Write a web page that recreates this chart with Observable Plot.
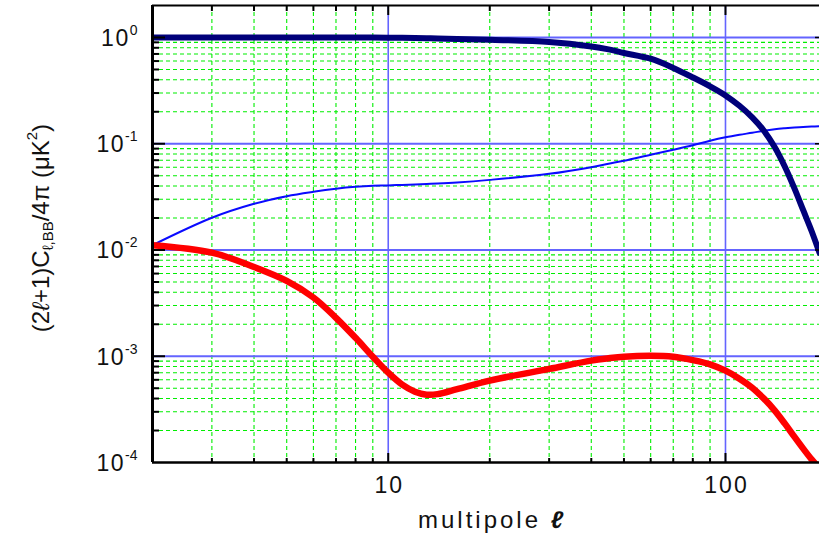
<!DOCTYPE html>
<html><head><meta charset="utf-8">
<script src="https://cdn.jsdelivr.net/npm/d3@7"></script>
<script src="https://cdn.jsdelivr.net/npm/@observablehq/plot@0.6"></script>
<style>html,body{margin:0;padding:0;background:#fff;} svg{display:block}</style>
</head><body><div id="chart"></div>
<script>
// multipole values
const ell = [2,3,4,5,6,7,8,9,10,11,12,13,14,16,20,30,40,45,50,60,70,80,90,100,110,120,130,140,150,160,170,180,190];
// thick navy curve
const seriesNavy = [1.0,1.0,1.0,1.0,1.0,1.0,1.0,1.0,0.996,0.994,0.99,0.985,0.979,0.968,0.951,0.907,0.823,0.772,0.715,0.631,0.517,0.421,0.347,0.285,0.2275,0.177,0.1325,0.0927,0.0608,0.0382,0.0237,0.0151,0.0094];
// thin blue curve
const seriesBlue = [0.0111,0.0201,0.0272,0.0321,0.0353,0.0377,0.0393,0.0402,0.0405,0.041,0.0414,0.0418,0.0422,0.0432,0.0457,0.0521,0.0602,0.0649,0.0692,0.0788,0.0878,0.0968,0.1067,0.115,0.1215,0.1269,0.1325,0.1368,0.1398,0.1422,0.1441,0.1453,0.146];
// thick red curve
const seriesRed = [0.0111,0.00944,0.00692,0.00512,0.00357,0.0023,0.00149,0.00099,0.0007,0.00054,0.000464,0.000435,0.00044,0.00049,0.00059,0.00076,0.00091,0.000957,0.00099,0.00101,0.00099,0.00092,0.00084,0.000731,0.000615,0.000506,0.000399,0.000308,0.000232,0.000175,0.000135,0.000107,0.000088];

// axes / grid
const xMajor = [10, 100];
const xMinor = [3,4,5,6,7,8,9,20,30,40,50,60,70,80,90];
const yMajor = [1e-3, 1e-2, 1e-1, 1e0];
const yMinor = [2e-4,3e-4,4e-4,5e-4,6e-4,7e-4,8e-4,9e-4,
                2e-3,3e-3,4e-3,5e-3,6e-3,7e-3,8e-3,9e-3,
                2e-2,3e-2,4e-2,5e-2,6e-2,7e-2,8e-2,9e-2,
                2e-1,3e-1,4e-1,5e-1,6e-1,7e-1,8e-1,9e-1];
const yTickValues = [1e-4, 1e-3, 1e-2, 1e-1, 1e0];
const yTickExps = ["-4", "-3", "-2", "-1", "0"];
const xTickValues = [10, 100];
const xTickLabels = ["10", "100"];
const xLabel = "multipole *{ℓ}";
const yLabel = "(2~{ℓ}+1)C_{ℓ,BB}/4π (μK^{2})";

const rows = [];
ell.forEach((l, i) => {
  rows.push({l, v: seriesNavy[i], s: "navy"});
  rows.push({l, v: seriesBlue[i], s: "blue"});
  rows.push({l, v: seriesRed[i], s: "red"});
});

const W = 819, H = 539, mL = 152, mR = 0, mT = 5, mB = 77;
const fw = W - mL - mR, fh = H - mT - mB;
const green = "#00ee00", gridBlue = "#6464ff";

const plot = Plot.plot({
  width: W, height: H,
  marginLeft: mL, marginRight: mR, marginTop: mT, marginBottom: mB,
  style: {background: "#fff", fontFamily: "'Liberation Sans', Arial, sans-serif", color: "#000"},
  x: {type: "log", domain: [2, 190], axis: null},
  y: {type: "log", domain: [1e-4, 2], axis: null},
  marks: [
    Plot.ruleX(xMinor, {stroke: green, strokeWidth: 1.1, strokeDasharray: "4,3"}),
    Plot.ruleY(yMinor, {stroke: green, strokeWidth: 1.1, strokeDasharray: "4,3"}),
    Plot.ruleX(xMajor, {stroke: gridBlue, strokeWidth: 1.6}),
    Plot.ruleY(yMajor, {stroke: gridBlue, strokeWidth: 1.8}),
    Plot.line(rows.filter(d => d.s === "blue"), {x: "l", y: "v", stroke: "#0a0aff", strokeWidth: 2, curve: "catmull-rom", clip: true}),
    Plot.line(rows.filter(d => d.s === "red"), {x: "l", y: "v", stroke: "#ff0000", strokeWidth: 6.5, curve: "catmull-rom", clip: true}),
    Plot.line(rows.filter(d => d.s === "navy"), {x: "l", y: "v", stroke: "#00007a", strokeWidth: 6, curve: "catmull-rom", clip: true}),
    // frame
    Plot.ruleX([2], {stroke: "#000", strokeWidth: 3}),
    Plot.ruleY([2], {stroke: "#000", strokeWidth: 2}),
    Plot.ruleY([1e-4], {stroke: "#000", strokeWidth: 2.5}),
    // left ticks
    Plot.tickY(yMajor, {stroke: "#000", strokeWidth: 2, insetRight: fw - 13}),
    Plot.tickY(yMinor, {stroke: "#000", strokeWidth: 2, insetRight: fw - 7}),
    // right ticks
    Plot.tickY(yMajor, {stroke: "#000", strokeWidth: 1.5, insetLeft: fw - 4}),
    // top ticks
    Plot.tickX(xMinor, {stroke: "#000", strokeWidth: 2, insetBottom: fh - 6}),
    Plot.tickX(xMajor, {stroke: "#000", strokeWidth: 2, insetBottom: fh - 10}),
    // bottom ticks
    Plot.tickX(xMinor, {stroke: "#000", strokeWidth: 2, insetTop: fh - 4}),
    Plot.tickX(xMajor, {stroke: "#000", strokeWidth: 2, insetTop: fh - 9}),
    // tick labels
    Plot.text(yTickValues, {y: d => d, frameAnchor: "left", dx: -15, dy: 1, textAnchor: "end",
      text: (d, i) => "10^{" + yTickExps[i] + "}", fontSize: 23, fill: "#111", ariaDescription: "ytick"}),
    Plot.text(xTickValues, {x: d => d, frameAnchor: "bottom", lineAnchor: "bottom", dy: 30, dx: 1,
      text: (d, i) => xTickLabels[i], fontSize: 23, fill: "#111", ariaDescription: "xtick"}),
    Plot.text([xLabel], {text: d => d, frameAnchor: "bottom", lineAnchor: "bottom", dy: 65, dx: 6,
      fontSize: 24, fill: "#111", ariaDescription: "xlabel"}),
    Plot.text([yLabel], {text: d => d, frameAnchor: "left", rotate: -90, textAnchor: "middle", lineAnchor: "bottom",
      dx: 48 - mL, dy: -6, fontSize: 24, fill: "#111", ariaDescription: "ylabel"})
  ]
});

const NS = "http://www.w3.org/2000/svg";
function markup(textEl, {small = 14, sup = 11, sub = 6, mainSpacing = null}) {
  const s = textEl.textContent;
  const re = /([\^_*~])\{([^}]*)\}/g;
  const parts = []; let last = 0, m;
  while ((m = re.exec(s))) {
    if (m.index > last) parts.push(["", s.slice(last, m.index)]);
    parts.push([m[1], m[2]]);
    last = re.lastIndex;
  }
  if (last < s.length) parts.push(["", s.slice(last)]);
  textEl.textContent = "";
  let off = 0;
  for (const [k, t] of parts) {
    const ts = document.createElementNS(NS, "tspan");
    const target = k === "^" ? -sup : k === "_" ? sub : 0;
    if (target !== off) { ts.setAttribute("dy", target - off); off = target; }
    if (k === "^" || k === "_") ts.setAttribute("font-size", small);
    else if (mainSpacing != null) ts.setAttribute("letter-spacing", mainSpacing);
    if (k === "*") { ts.setAttribute("font-style", "italic"); ts.setAttribute("font-weight", "bold"); }
    if (k === "~") { ts.setAttribute("font-style", "italic"); }
    ts.textContent = t;
    textEl.appendChild(ts);
  }
}
const sel = d3.select(plot);
sel.selectAll("g[aria-description=ytick] text").each(function() { markup(this, {small: 14, sup: 11, mainSpacing: 1.5}); });
sel.selectAll("g[aria-description=xtick] text").each(function() { markup(this, {mainSpacing: 2}); });
sel.selectAll("g[aria-description=xlabel] text").each(function() { markup(this, {mainSpacing: 3}); });
sel.selectAll("g[aria-description=ylabel] text").each(function() { markup(this, {small: 15, sup: 12, sub: 4}); });

document.getElementById("chart").appendChild(plot);
</script>
</body></html>
